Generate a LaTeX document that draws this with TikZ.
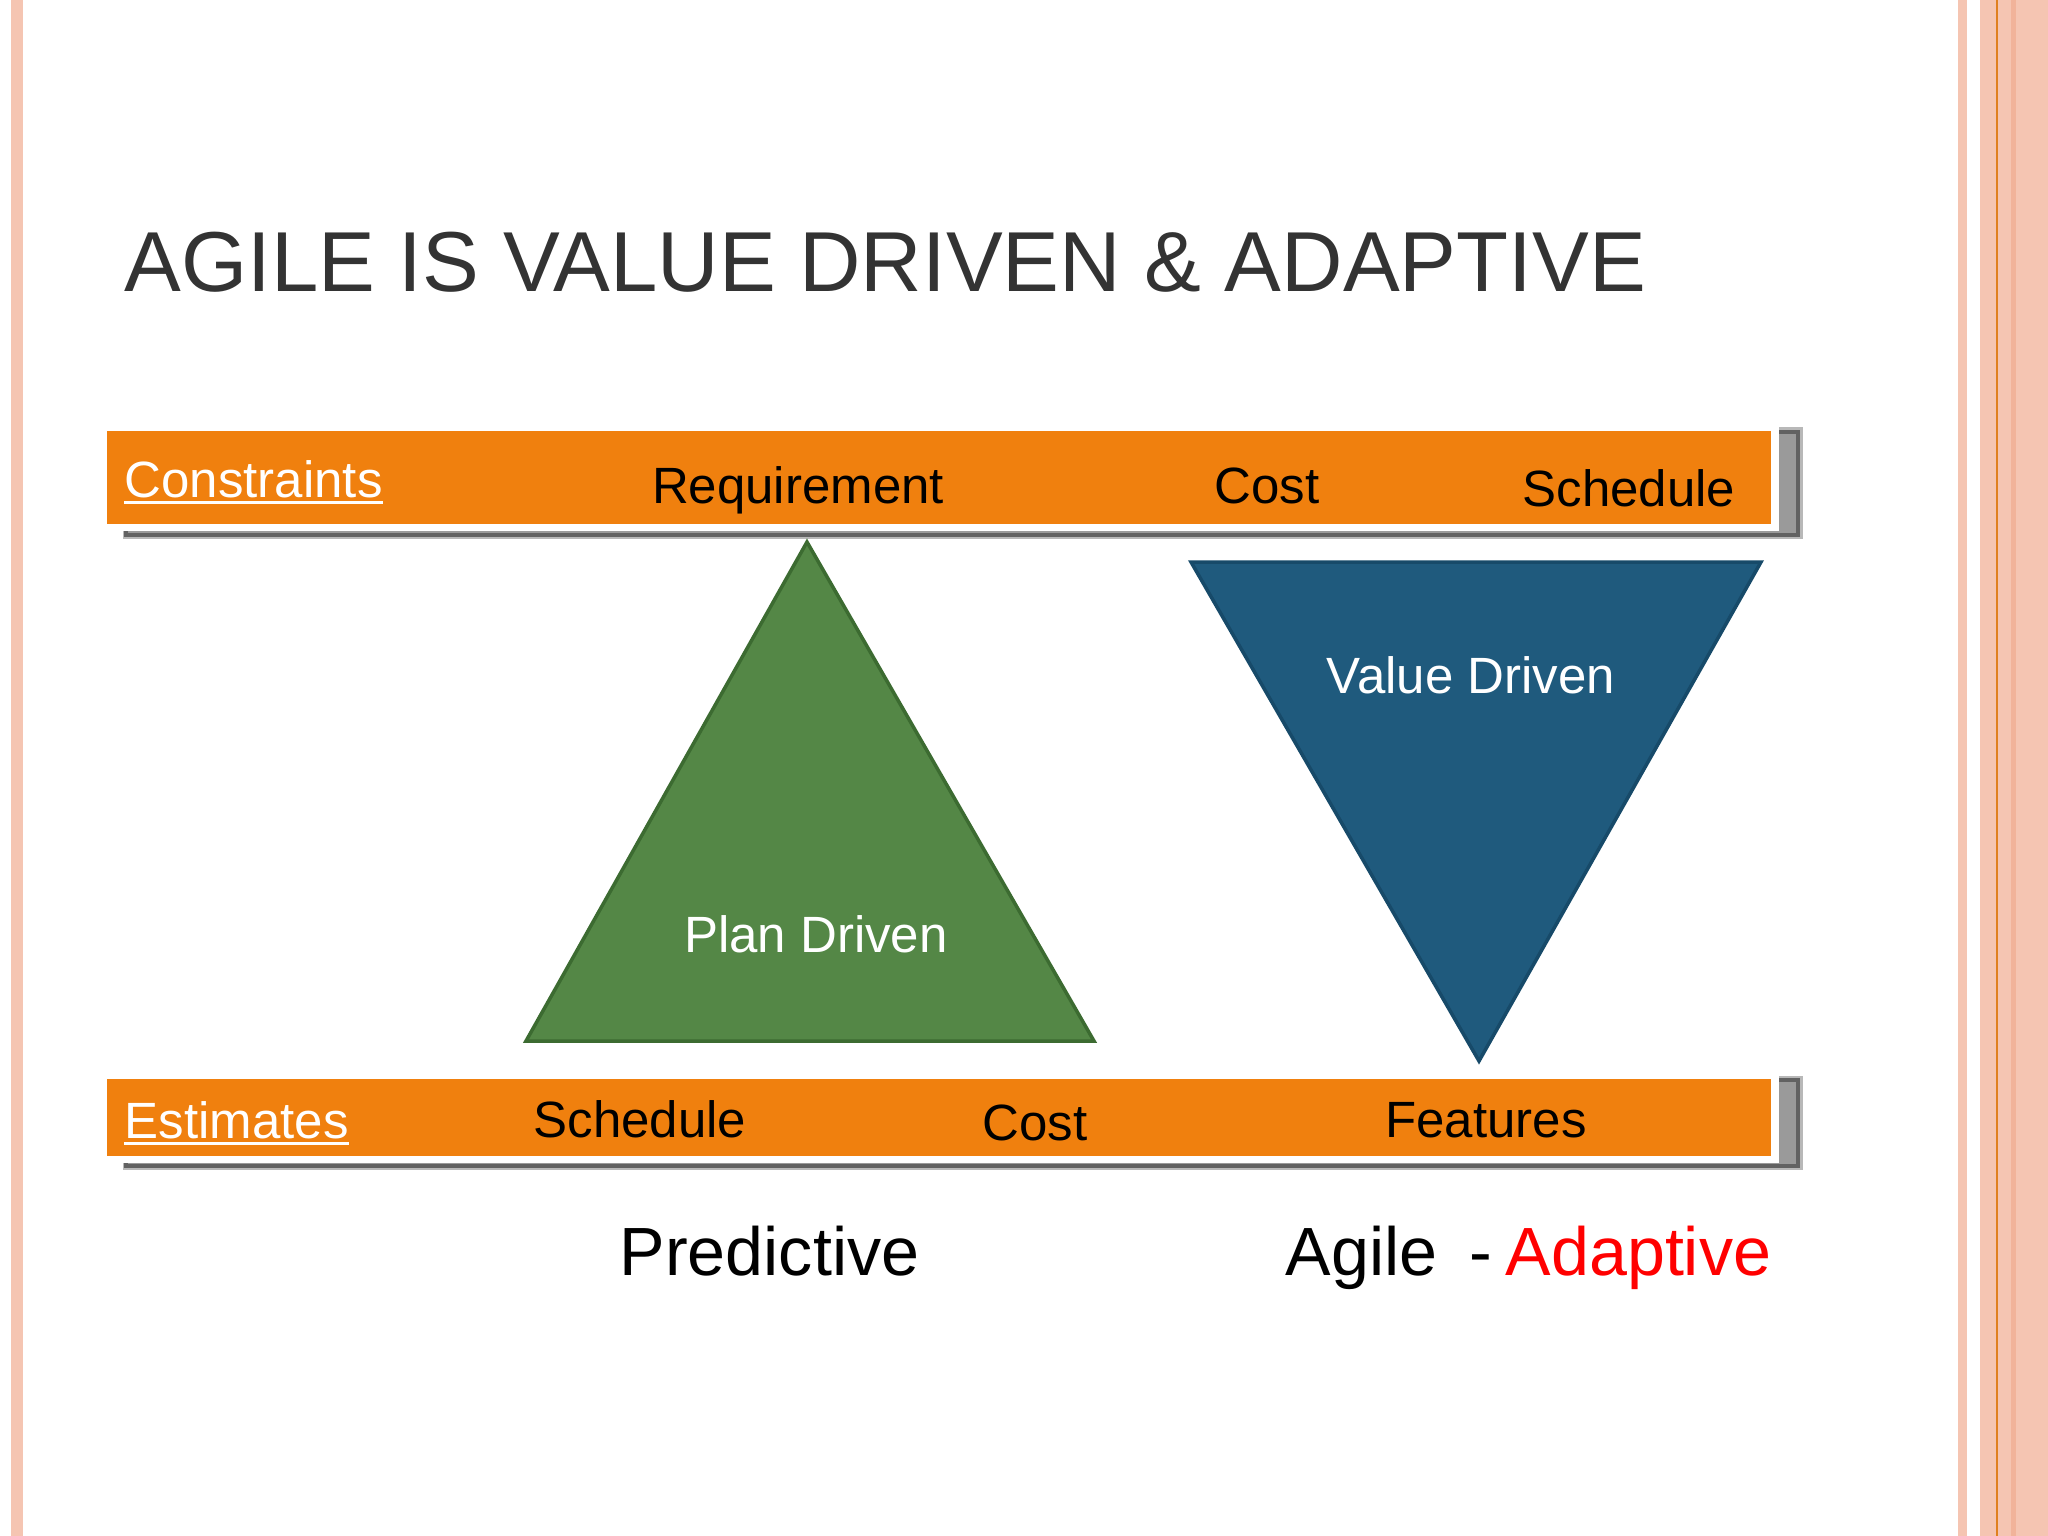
\documentclass[tikz,border=0pt]{standalone}
\usepackage{fontspec}
\setmainfont{Liberation Sans}
\usetikzlibrary{positioning}

\definecolor{barorange}{HTML}{F0800E}
\definecolor{titlegray}{HTML}{333333}
\definecolor{planfill}{HTML}{548746}
\definecolor{planline}{HTML}{3C6B31}
\definecolor{valuefill}{HTML}{1F5A7D}
\definecolor{valueline}{HTML}{174A69}
\definecolor{edgepink}{HTML}{F5C5B2}
\definecolor{edgedark}{HTML}{F1B39A}
\definecolor{edgeline}{HTML}{E0801F}
\definecolor{shadegray}{HTML}{9A9A9A}
\definecolor{shadeline}{HTML}{626262}
\definecolor{shadelight}{HTML}{B8B8B8}

\tikzset{
  slidetitle/.style={font=\fontsize{24.2}{29}\selectfont, text=titlegray, inner sep=0, anchor=base west},
  barlabel/.style={font=\fontsize{14.5}{17}\selectfont, inner sep=0, anchor=base},
  barhead/.style={font=\fontsize{14.5}{17}\selectfont, text=white, inner sep=0, anchor=base west},
  shapelabel/.style={font=\fontsize{14.5}{17}\selectfont, text=white, inner sep=0},
  bottomlabel/.style={font=\fontsize{19.4}{23}\selectfont, inner sep=0, anchor=base west},
}

\begin{document}
\begin{tikzpicture}[x=0.01cm, y=-0.01cm]
				\useasboundingbox (0,0) rectangle (2048,1536);
				\fill[white] (0,0) rectangle (2048,1536);
				% page edges
				\fill[edgepink] (11,0) rectangle (23,1536);
				\fill[edgepink] (1958,0) rectangle (1967,1536);
				\fill[edgepink] (1980,0) rectangle (2048,1536);
				\fill[edgedark] (2011,0) rectangle (2016,1536);
				\fill[edgeline] (1996,0) rectangle (1998,1536);

				\node[slidetitle] (title) at (124,291) {AGILE IS VALUE DRIVEN \& ADAPTIVE};

				% top bar
				\fill[shadelight] (123,427) rectangle (1803,539);
				\filldraw[fill=shadegray, draw=shadeline, line width=0.9pt] (126,432) rectangle (1798,535);
				\fill[white] (99,424) rectangle (1779,531);
				\fill[barorange] (107,431) rectangle (1771,524);
				\node[barhead] (cons) at (124,497) {Constraints};
				\draw[white, line width=0.8pt] ([yshift=-1.6pt]cons.base west) -- ([yshift=-1.6pt]cons.base east);
				\node[barlabel] (req)   at (798,503)  {Requirement};
				\node[barlabel] (costa) at (1267,503) {Cost};
				\node[barlabel] (scha)  at (1629,506) {Schedule};

				% bottom bar
				\fill[shadelight] (123,1076) rectangle (1803,1170);
				\filldraw[fill=shadegray, draw=shadeline, line width=0.9pt] (126,1080) rectangle (1798,1166);
				\fill[white] (99,1072) rectangle (1779,1163);
				\fill[barorange] (107,1079) rectangle (1771,1156);
				\node[barhead] (est) at (124,1138) {Estimates};
				\draw[white, line width=0.8pt] ([yshift=-1.6pt]est.base west) -- ([yshift=-1.6pt]est.base east);
				\node[barlabel] (schb)  at (640,1137)  {Schedule};
				\node[barlabel] (costb) at (1035,1140) {Cost};
				\node[barlabel] (feat)  at (1486,1137) {Features};

				% triangles
				\coordinate (pa) at (807,542);
				\coordinate (pb) at (526,1041);
				\coordinate (pc) at (1094,1041);
				\filldraw[fill=planfill, draw=planline, line width=1pt, line join=miter] (pa) -- (pb) -- (pc) -- cycle;
				\node[shapelabel] (plan) at (816,934) {Plan Driven};

				\coordinate (va) at (1191,562);
				\coordinate (vb) at (1761,562);
				\coordinate (vc) at (1479,1061);
				\filldraw[fill=valuefill, draw=valueline, line width=1pt, line join=miter] (va) -- (vb) -- (vc) -- cycle;
				\node[shapelabel] (value) at (1471,675) {Value Driven};

				% bottom words
				\node[bottomlabel] (pred)  at (619,1275)  {Predictive};
				\node[bottomlabel] (agile) at (1285,1275) {Agile};
				\node[bottomlabel] (dash)  at (1469,1275) {-};
				\node[bottomlabel, text=red] (adapt) at (1505,1275) {Adaptive};
\end{tikzpicture}
\end{document}
